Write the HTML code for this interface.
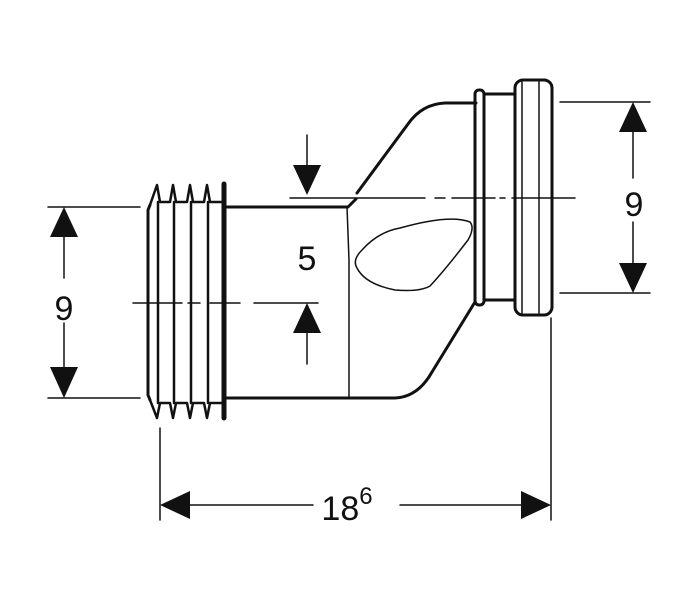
<!DOCTYPE html>
<html><head><style>body{margin:0;background:#fff}svg{display:block}</style></head><body>
<svg width="700" height="600" viewBox="0 0 700 600" xmlns="http://www.w3.org/2000/svg" font-family="Liberation Sans, sans-serif">
<g fill="none" stroke="#111" stroke-linecap="round" stroke-linejoin="round">
<!-- left pipe -->
<path d="M227 207 H348 L356 199" stroke-width="3"/>
<path d="M227 398 H395 Q418 397 432 372 L475 302" stroke-width="3"/>
<path d="M357 193 L408 124 Q422 104 445 103 H476" stroke-width="3"/>
<path d="M347 207 L349 260 V397" stroke-width="1.5"/>
<!-- threads -->
<path d="M224 184 V418" stroke-width="5"/>
<path d="M150 205 L148 210 V395 L150 400" stroke-width="3"/>
<path d="M150 205 L157 185 L160 202 H170 L173 185 L176 202 H187 L190 185 L193 202 H204 L207 185 L210 202 H224" stroke-width="2.5"/>
<path d="M150 400 L157 418 L160 403 H170 L173 418 L176 403 H187 L190 418 L193 403 H204 L207 418 L210 403 H224" stroke-width="2.5"/>
<path d="M158 202 V403 M174 202 V403 M191 202 V403 M208 202 V403" stroke-width="2.5"/>
<!-- rings -->
<rect x="475" y="90" width="9" height="215" rx="4" stroke-width="3"/>
<path d="M484 94 H515 M484 300 H515" stroke-width="3"/>
<rect x="515" y="80" width="37" height="235" rx="8" stroke-width="3"/>
<path d="M522 82 V313 M539 82 V313" stroke-width="1.5"/>
<!-- blob -->
<path d="M357 268 Q352 260 362 250 Q378 232 400 228 Q450 214 470 222 Q475 228 468 240 Q445 270 430 286 Q420 292 395 290 Q365 284 357 268 Z" stroke-width="1.5"/>
<!-- centre lines -->
<path d="M290 198 H425 M435 198 H445 M452 198 H495 M500 198 H505 M512 198 H575" stroke-width="1.5"/>
<path d="M133 303 H182 M188 303 H200 M210 303 H240 M254 303 H318" stroke-width="1.5"/>
<!-- dims -->
<path d="M48 207 H140 M48 398 H140 M64 237 V278 M64 323 V367" stroke-width="1.5"/>
<path d="M560 102 H650 M560 293 H650 M633 132 V178 M633 222 V263" stroke-width="1.5"/>
<path d="M160 428 V520 M551 318 V520 M188 505 H313 M400 505 H523" stroke-width="1.5"/>
<path d="M307 135 V165 M307 333 V364" stroke-width="1.5"/>
</g>
<g fill="#111">
<path d="M64 207 L50 237 H78 Z M64 398 L50 367 H78 Z"/>
<path d="M633 102 L619 132 H647 Z M633 293 L619 263 H647 Z"/>
<path d="M160 505 L190 491 V519 Z M551 505 L521 491 V519 Z"/>
<path d="M307 195 L293 165 H321 Z M307 303 L293 333 H321 Z"/>
</g>
<g font-size="34" fill="#111" text-anchor="middle">
<text x="64" y="320">9</text>
<text x="634" y="216">9</text>
<text x="307" y="270">5</text>
<text x="347" y="520">18<tspan font-size="24" dy="-16">6</tspan></text>
</g>
</svg>
</body></html>
